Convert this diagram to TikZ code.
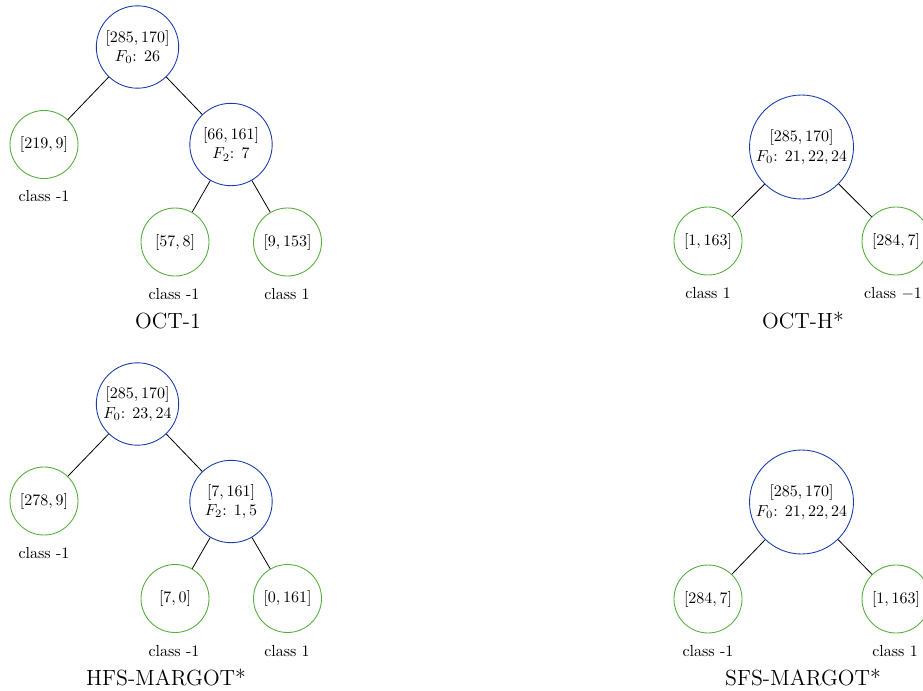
\documentclass[tikz,border=0pt]{standalone}
\usepackage{xcolor}
\definecolor{nodeblue}{RGB}{25,60,170}
\definecolor{leafgreen}{RGB}{85,175,60}
\begin{document}
\begin{tikzpicture}[x=0.625pt,y=-0.625pt,
  inner/.style={circle,draw=nodeblue,line width=0.55pt,minimum size=51.5pt,inner sep=0pt,align=center,font=\normalsize},
  bigroot/.style={circle,draw=nodeblue,line width=0.55pt,minimum size=65pt,inner sep=0pt,align=center,font=\normalsize},
  leaf/.style={circle,draw=leafgreen,line width=0.55pt,minimum size=42.5pt,inner sep=0pt,font=\normalsize},
  cls/.style={font=\normalsize,inner sep=0pt},
  ttl/.style={font=\fontsize{13.7}{16}\selectfont,inner sep=0pt},
  edge/.style={draw=black,line width=0.5pt}]
\useasboundingbox (0,0) rectangle (923,690);
% OCT-1
\node[inner] (a0) at (137.5,47) {$[285,170]$\\$F_0$: $26$};
\node[leaf] (a1) at (44,144.5) {$[219,9]$};
\node[inner] (a2) at (231,144.5) {$[66,161]$\\$F_2$: $7$};
\node[leaf] (a3) at (175,242) {$[57,8]$};
\node[leaf] (a4) at (287.5,242) {$[9,153]$};
\draw[edge] (a0) -- (a1);
\draw[edge] (a0) -- (a2);
\draw[edge] (a2) -- (a3);
\draw[edge] (a2) -- (a4);
\node[cls] (a1c) at (44,196) {class -1};
\node[cls] (a3c) at (174,294.5) {class -1};
\node[cls] (a4c) at (287,294.5) {class 1};
\node[ttl] (at) at (168,321.5) {OCT-1};
% OCT-H*
\node[bigroot] (b0) at (801.5,147) {$[285,170]$\\$F_0$: $21,22,24$};
\node[leaf] (b1) at (708,241) {$[1,163]$};
\node[leaf] (b2) at (896,241) {$[284,7]$};
\draw[edge] (b0) -- (b1);
\draw[edge] (b0) -- (b2);
\node[cls] (b1c) at (708,293.5) {class 1};
\node[cls] (b2c) at (893,293.5) {class $-1$};
\node[ttl] (bt) at (803,321) {OCT-H*};
% HFS-MARGOT*
\node[inner] (c0) at (137.5,404) {$[285,170]$\\$F_0$: $23,24$};
\node[leaf] (c1) at (44,501) {$[278,9]$};
\node[inner] (c2) at (231,501.5) {$[7,161]$\\$F_2$: $1,5$};
\node[leaf] (c3) at (175,598.5) {$[7,0]$};
\node[leaf] (c4) at (287.5,598.5) {$[0,161]$};
\draw[edge] (c0) -- (c1);
\draw[edge] (c0) -- (c2);
\draw[edge] (c2) -- (c3);
\draw[edge] (c2) -- (c4);
\node[cls] (c1c) at (44,553) {class -1};
\node[cls] (c3c) at (174,651.5) {class -1};
\node[cls] (c4c) at (287,651.5) {class 1};
\node[ttl] (ct) at (166,677.5) {HFS-MARGOT*};
% SFS-MARGOT*
\node[bigroot] (d0) at (801.5,502) {$[285,170]$\\$F_0$: $21,22,24$};
\node[leaf] (d1) at (708,599) {$[284,7]$};
\node[leaf] (d2) at (896,599) {$[1,163]$};
\draw[edge] (d0) -- (d1);
\draw[edge] (d0) -- (d2);
\node[cls] (d1c) at (708,651) {class -1};
\node[cls] (d2c) at (895,651) {class 1};
\node[ttl] (dt) at (803,677) {SFS-MARGOT*};
\end{tikzpicture}
\end{document}
